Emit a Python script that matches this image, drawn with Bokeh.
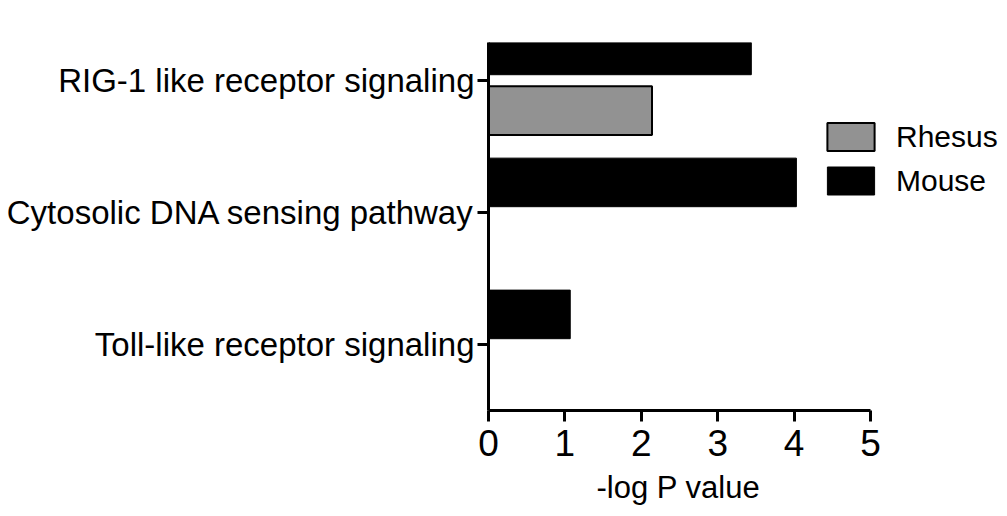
from bokeh.plotting import figure
from bokeh.models import ColumnDataSource, Legend, LegendItem, FixedTicker, Range1d, Title
from bokeh.embed import file_html
from bokeh.resources import INLINE

categories = ["RIG-1 like receptor signaling", "Cytosolic DNA sensing pathway", "Toll-like receptor signaling"]
rhesus = [2.14, 0.0, 0.0]
mouse = [3.44, 4.03, 1.07]
x_ticks = [0, 1, 2, 3, 4, 5]
series_names = ["Rhesus", "Mouse"]
x_title = "-log P value"

FONT = "Liberation Sans"
pos = [len(categories) - 1 - i for i in range(len(categories))]
off = 0.228
bh = 0.368

src_r = ColumnDataSource(dict(y=[p - off for p in pos], right=rhesus))
src_m = ColumnDataSource(dict(y=[p + off for p in pos], right=mouse))

# frame spans pixels 488..1000 horizontally; 0..5 occupies 382px
x_end = 5 * 512 / 382.0
p = figure(width=1000, height=516, output_backend="svg", toolbar_location=None,
           x_range=Range1d(0, x_end), y_range=Range1d(-0.5, 2.288),
           min_border_left=488, min_border_right=0, min_border_top=42, min_border_bottom=106)
p.outline_line_color = None
p.xgrid.visible = False
p.ygrid.visible = False
p.background_fill_color = "white"
p.border_fill_color = "white"

r_m = p.hbar(y="y", right="right", left=0, height=bh, source=src_m,
             fill_color="black", line_color="black", line_width=1)
r_r = p.hbar(y="y", right="right", left=0, height=bh, source=src_r,
             fill_color="#929292", line_color="black", line_width=2)

for ax in (p.xaxis[0], p.yaxis[0]):
    ax.axis_line_width = 3
    ax.axis_line_color = "black"
    ax.major_tick_line_width = 3
    ax.major_tick_line_color = "black"
    ax.major_tick_in = 0
    ax.major_tick_out = 11
    ax.minor_tick_line_color = None
    ax.major_label_text_font = FONT
    ax.major_label_text_color = "black"

p.xaxis.ticker = FixedTicker(ticks=x_ticks)
p.xaxis.bounds = (0, 5)
p.xaxis.major_label_text_font_size = "37px"
p.xaxis.major_label_standoff = 8

# axis title centred under the 0..5 span of the axis
t = Title(text=x_title, align="left", offset=108, standoff=19,
          text_font=FONT, text_font_size="31px", text_font_style="normal", text_color="black")
p.add_layout(t, "below")

p.yaxis.ticker = FixedTicker(ticks=pos)
p.yaxis.major_label_overrides = {pos[i]: categories[i] for i in range(len(categories))}
p.yaxis.major_label_text_font_size = "33px"
p.yaxis.major_label_standoff = 3

legend = Legend(items=[LegendItem(label=series_names[0], renderers=[r_r]),
                       LegendItem(label=series_names[1], renderers=[r_m])],
                location=(333, 212), orientation="vertical",
                glyph_width=59, glyph_height=35, label_standoff=16, spacing=9,
                padding=0, margin=0, border_line_color=None, background_fill_alpha=0,
                label_text_font=FONT, label_text_font_size="30px", label_text_color="black")
p.add_layout(legend, "center")

open("out.html", "w").write(file_html(p, INLINE))
